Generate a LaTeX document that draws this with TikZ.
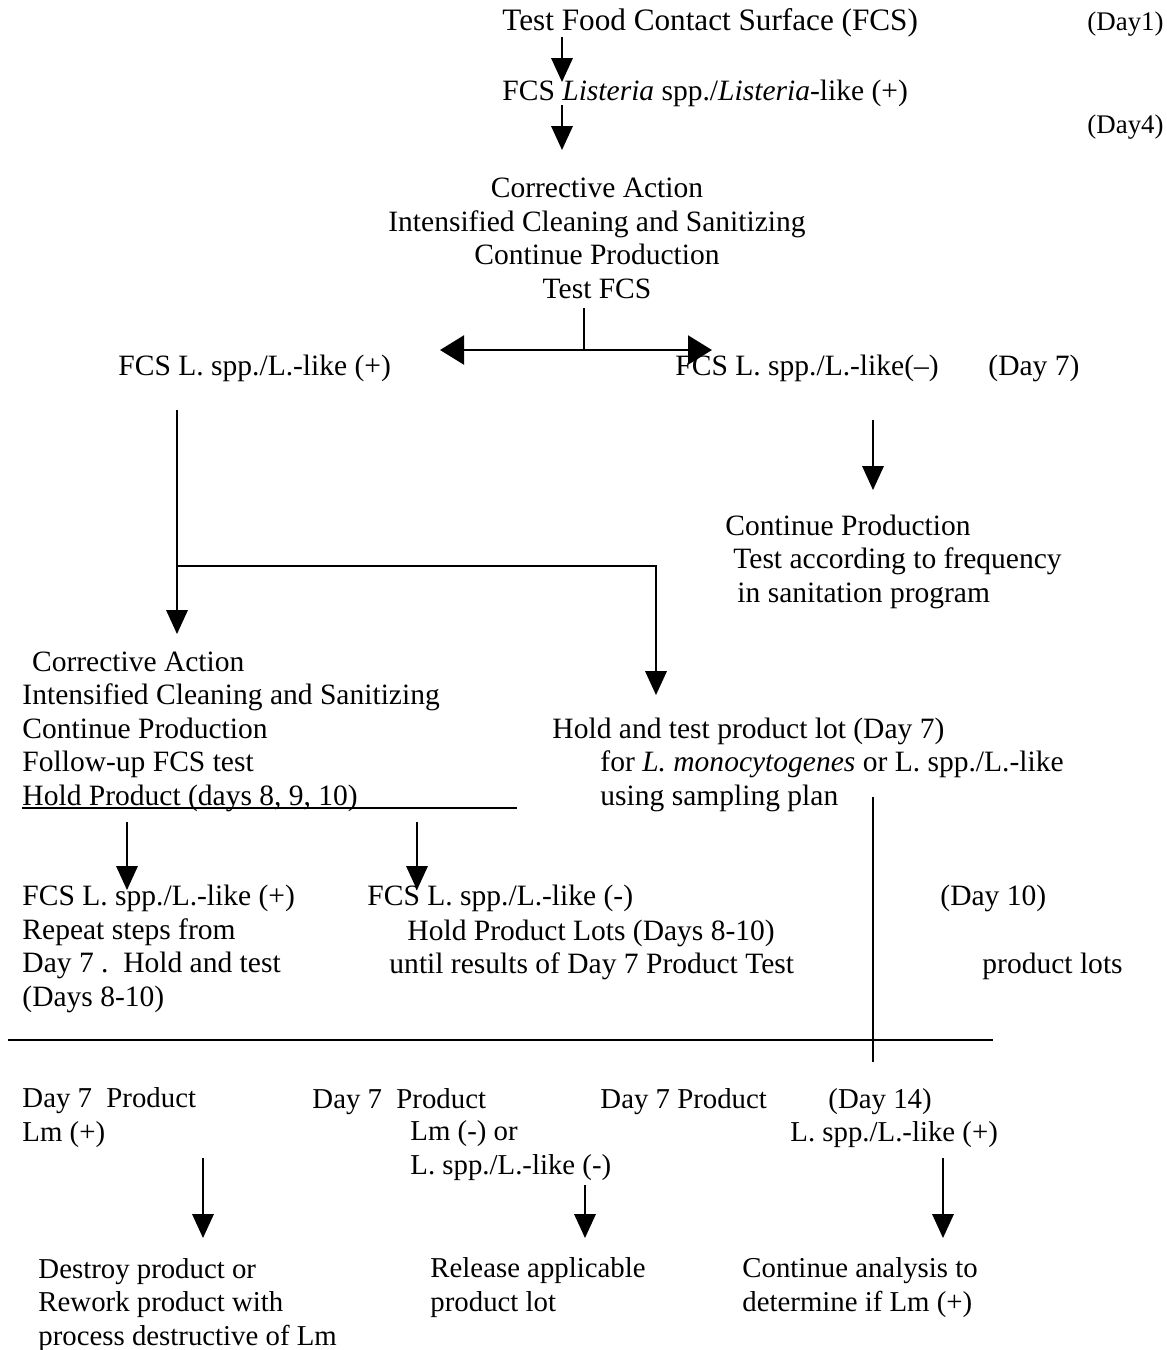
\documentclass[tikz,border=0pt]{standalone}
\usepackage{fontspec}
\setmainfont{Liberation Serif}
\usetikzlibrary{arrows.meta, positioning, calc}

\begin{document}
\begin{tikzpicture}[x=0.4167pt, y=-0.4167pt,
  txt/.style={anchor=base west, inner sep=0pt, align=left, font=\fontsize{12.3}{13.9}\selectfont},
  txtsm/.style={anchor=base west, inner sep=0pt, align=left, font=\fontsize{12}{13.9}\selectfont},
  daytag/.style={anchor=base west, inner sep=0pt, font=\fontsize{11.2}{13.9}\selectfont},
  arr/.style={-{Triangle[width=9pt,length=10pt]}, line width=0.6pt},
  twoway/.style={{Triangle[width=12pt,length=10pt]}-{Triangle[width=12pt,length=10pt]}, line width=1.2pt},
  link/.style={line width=0.6pt}]
  \useasboundingbox (0,0) rectangle (1167,1350);

  % day 1 to day 4 (multi-line nodes sit on their last baseline)
  \node[txt, font=\fontsize{13}{13.9}\selectfont] (testfcs) at (502,30) {Test Food Contact Surface (FCS)};
  \node[daytag] (day1) at (1087,30) {(Day1)};
  \node[txt] (fcspos) at (502,100) {FCS \textit{Listeria} spp./\textit{Listeria}-like (+)};
  \node[daytag] (day4) at (1087,133) {(Day4)};
  \node[anchor=base, inner sep=0pt, align=center, font=\fontsize{12.3}{13.9}\selectfont] (corrA) at (597,298)
    {Corrective Action\\Intensified Cleaning and Sanitizing\\Continue Production\\Test FCS};

  % day 7
  \node[txt] (plusA) at (118,375) {FCS L. spp./L.-like (+)};
  \node[txt] (minusA) at (675,375) {FCS L. spp./L.-like(--)};
  \node[txt] (day7) at (988,375) {(Day 7)};
  \node[txt] (contprod) at (725,602)
    {Continue Production\\\hspace*{3.3pt}Test according to frequency\\\hspace*{5pt}in sanitation program};
  \node[txt] (corrB) at (22,805)
    {\hspace*{4pt}Corrective Action\\Intensified Cleaning and Sanitizing\\Continue Production\\Follow-up FCS test\\Hold Product (days 8, 9, 10)};
  \node[txt] (holdlot) at (552,738) {Hold and test product lot (Day 7)};
  \node[txt] (forlm) at (600,805) {for \textit{L. monocytogenes} or L. spp./L.-like\\using sampling plan};

  % days 8 to 10
  \node[txt] (plusB) at (22,1006) {FCS L. spp./L.-like (+)\\Repeat steps from\\Day 7 .\ \ Hold and test\\(Days 8-10)};
  \node[txt] (minusB) at (367,905) {FCS L. spp./L.-like (-)};
  \node[txt] (holdlots) at (407,940) {Hold Product Lots (Days 8-10)};
  \node[txt] (until) at (389,973) {until results of Day 7 Product Test};
  \node[txt] (day10) at (940,905) {(Day 10)};
  \node[txt] (lots) at (982,973) {product lots};

  % product results
  \node[txtsm] (prodA) at (22,1141) {Day 7\ \ Product\\Lm (+)};
  \node[txtsm] (prodB) at (312,1108) {Day 7\ \ Product};
  \node[txtsm] (lmneg) at (410,1174) {Lm (-) or\\L. spp./L.-like (-)};
  \node[txtsm] (prodC) at (600,1108) {Day 7 Product};
  \node[txtsm] (day14) at (828,1108) {(Day 14)};
  \node[txtsm] (lsppC) at (790,1141) {L. spp./L.-like (+)};
  \node[txtsm] (destroy) at (38,1345) {Destroy product or\\Rework product with\\process destructive of Lm};
  \node[txtsm] (release) at (430,1311) {Release applicable\\product lot};
  \node[txtsm] (analysis) at (742,1311) {Continue analysis to\\determine if Lm (+)};

  \coordinate (a1s) at (562,37);   \coordinate (a1e) at (562,82);
  \coordinate (a2s) at (562,105);  \coordinate (a2e) at (562,150);
  \coordinate (split) at (584,308); \coordinate (mid) at (584,350);
  \coordinate (toL) at (440,350);  \coordinate (toR) at (712,350);
  \coordinate (b1s) at (177,410);  \coordinate (b1e) at (177,634);
  \coordinate (fork) at (177,566); \coordinate (elbow) at (656,566);
  \coordinate (b2e) at (656,695);
  \coordinate (c1s) at (873,420);  \coordinate (c1e) at (873,490);
  \coordinate (ulS) at (22,808);   \coordinate (ulE) at (517,808);
  \coordinate (d1s) at (127,822);  \coordinate (d1e) at (127,890);
  \coordinate (d2s) at (417,822);  \coordinate (d2e) at (417,890);
  \coordinate (vtop) at (873,797); \coordinate (vbot) at (873,1062);
  \coordinate (hL) at (8,1040);    \coordinate (hR) at (993,1040);
  \coordinate (e1s) at (203,1158); \coordinate (e1e) at (203,1238);
  \coordinate (e2s) at (585,1185); \coordinate (e2e) at (585,1238);
  \coordinate (e3s) at (943,1158); \coordinate (e3e) at (943,1238);

  \draw[arr] (a1s) -- (a1e);
  \draw[arr] (a2s) -- (a2e);
  \draw[link] (split) -- (mid);
  \draw[twoway] (toL) -- (toR);
  \draw[arr] (b1s) -- (b1e);
  \draw[arr, line width=0.8pt] (fork) -- (elbow) -- (b2e);
  \draw[arr] (c1s) -- (c1e);
  \draw[link] (ulS) -- (ulE);
  \draw[arr] (d1s) -- (d1e);
  \draw[arr] (d2s) -- (d2e);
  \draw[link] (vtop) -- (vbot);
  \draw[line width=0.9pt] (hL) -- (hR);
  \draw[arr] (e1s) -- (e1e);
  \draw[arr] (e2s) -- (e2e);
  \draw[arr] (e3s) -- (e3e);
\end{tikzpicture}
\end{document}
